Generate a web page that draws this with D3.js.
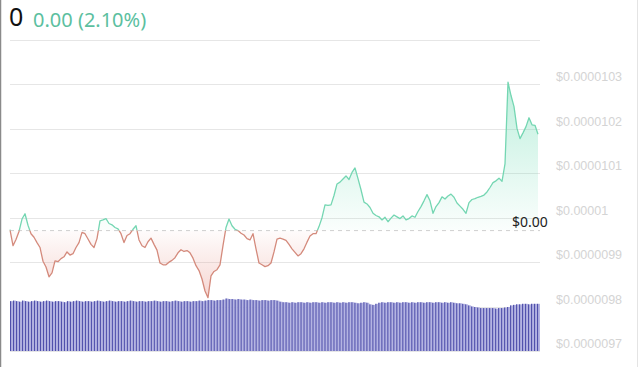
<!DOCTYPE html>
<html><head><meta charset="utf-8">
<script src="https://cdn.jsdelivr.net/npm/d3@7"></script>
<style>html,body{margin:0;padding:0;background:#fff;overflow:hidden}</style>
</head><body>
<svg id="c" width="640" height="367"></svg>
<script>
// Prices in units of 1e-7 USD
const prices = [
 99.73, 99.37, 99.51, 99.69, 99.97, 100.09, 99.83, 99.64, 99.56, 99.44,
 99.33, 99.02, 98.89, 98.67, 98.76, 99.03, 99.01, 99.08, 99.12, 99.23,
 99.16, 99.19, 99.33, 99.44, 99.67, 99.64, 99.52, 99.40, 99.33, 99.53,
 99.93, 99.95, 99.98, 99.87, 99.84, 99.78, 99.75, 99.64, 99.44, 99.60,
 99.64, 99.74, 99.82, 99.50, 99.37, 99.33, 99.46, 99.54, 99.40, 99.27,
 98.98, 98.94, 98.94, 99.00, 99.04, 99.10, 99.21, 99.28, 99.24, 99.26,
 99.21, 99.09, 98.92, 98.81, 98.62, 98.35, 98.20, 98.69, 98.79, 98.83,
 98.94, 99.37, 99.78, 99.97, 99.82, 99.74, 99.71, 99.65, 99.61, 99.53,
 99.50, 99.64, 99.30, 98.98, 98.94, 98.90, 98.92, 98.98, 99.23, 99.52,
 99.54, 99.52, 99.49, 99.40, 99.30, 99.22, 99.14, 99.19, 99.30, 99.45,
 99.59, 99.64, 99.64, 99.80, 100.00, 100.29, 100.28, 100.29, 100.50, 100.76,
 100.80, 100.87, 100.94, 100.86, 101.02, 101.12, 100.88, 100.63, 100.35, 100.31,
 100.23, 100.10, 100.05, 100.02, 99.95, 100.01, 99.91, 99.99, 100.06, 100.02,
 99.98, 100.04, 99.95, 99.98, 100.04, 100.01, 100.14, 100.25, 100.38, 100.52,
 100.38, 100.10, 100.25, 100.34, 100.47, 100.42, 100.49, 100.53, 100.46, 100.33,
 100.26, 100.19, 100.10, 100.34, 100.41, 100.43, 100.46, 100.48, 100.51, 100.58,
 100.68, 100.79, 100.83, 100.89, 100.82, 101.21, 103.05, 102.75, 102.50, 102.01,
 101.78, 101.91, 102.05, 102.25, 102.09, 102.08, 101.88
];
const volumes = [
 94, 95, 94, 93, 95, 94, 93, 94, 95, 94,
 93, 94, 95, 94, 93, 94, 94, 93, 92, 94,
 93, 94, 95, 94, 93, 94, 94, 93, 94, 95,
 94, 93, 94, 95, 94, 93, 94, 94, 93, 94,
 95, 94, 93, 94, 94, 93, 94, 94, 95, 94,
 93, 94, 94, 93, 94, 95, 94, 93, 94, 94,
 93, 94, 94, 95, 94, 95, 96, 96, 95, 96,
 96, 97, 99, 98, 98, 97, 98, 97, 97, 96,
 97, 96, 96, 95, 96, 96, 95, 96, 96, 95,
 93, 92, 92, 91, 92, 91, 92, 92, 91, 92,
 91, 92, 92, 91, 92, 91, 92, 92, 91, 92,
 91, 92, 91, 92, 92, 91, 90, 91, 92, 91,
 88, 87, 89, 91, 92, 91, 92, 92, 91, 92,
 91, 92, 92, 91, 92, 91, 92, 92, 91, 92,
 92, 91, 92, 92, 91, 92, 91, 92, 91, 90,
 90, 89, 88, 86, 84, 83, 82, 81, 81, 81,
 81, 81, 80, 81, 81, 82, 83, 86, 87, 88,
 88, 89, 89, 88, 89, 89, 89
];
const gridTicks = [97, 98, 99, 100, 101, 102, 103, 104];
const labelTicks = [97, 98, 99, 100, 101, 102, 103];
const basePrice = 99.71;
const headerPrice = "0";
const headerChange = "0.00 (2.10%)";
const baseLabel = "$0.00";

const svg = d3.select("#c");
const W = 640, H = 367;
const x = d3.scaleLinear().domain([0, prices.length - 1]).range([10, 538]);
const xv = d3.scaleLinear().domain([0, volumes.length - 1]).range([11.5, 538.5]);
const y = d3.scaleLinear().domain([97, 104]).range([351, 40]);
const yv = d3.scaleLinear().domain([0, 100]).range([351, 298]);
const fmt = v => "$" + d3.format(".7~f")(v * 1e-7);
const yBase = y(basePrice);

const defs = svg.append("defs");
const gG = defs.append("linearGradient").attr("id", "gG").attr("gradientUnits", "userSpaceOnUse")
  .attr("x1", 0).attr("x2", 0).attr("y1", y(d3.max(prices))).attr("y2", yBase);
gG.append("stop").attr("offset", 0).attr("stop-color", "#6fdcb4").attr("stop-opacity", 0.45);
gG.append("stop").attr("offset", 1).attr("stop-color", "#6fdcb4").attr("stop-opacity", 0.03);
const gR = defs.append("linearGradient").attr("id", "gR").attr("gradientUnits", "userSpaceOnUse")
  .attr("x1", 0).attr("x2", 0).attr("y1", yBase).attr("y2", y(d3.min(prices)));
gR.append("stop").attr("offset", 0).attr("stop-color", "#e8948a").attr("stop-opacity", 0.03);
gR.append("stop").attr("offset", 1).attr("stop-color", "#e8948a").attr("stop-opacity", 0.38);
defs.append("clipPath").attr("id", "cA").append("rect").attr("x", 0).attr("y", 0).attr("width", W).attr("height", yBase);
defs.append("clipPath").attr("id", "cB").append("rect").attr("x", 0).attr("y", yBase).attr("width", W).attr("height", H - yBase);

// borders
svg.append("line").attr("x1", 0.5).attr("x2", 0.5).attr("y1", 0).attr("y2", H).attr("stroke", "#8a8a8a").attr("stroke-width", 1.5);
svg.append("line").attr("x1", 637.5).attr("x2", 637.5).attr("y1", 0).attr("y2", H).attr("stroke", "#e4e4e4").attr("stroke-width", 1);

// grid
svg.append("g").selectAll("line").data(gridTicks).join("line")
  .attr("x1", 10).attr("x2", 540).attr("y1", d => Math.round(y(d)) + 0.5).attr("y2", d => Math.round(y(d)) + 0.5)
  .attr("stroke", "#e6e6e6").attr("stroke-width", 1);

// y labels
svg.append("g").selectAll("text").data(labelTicks).join("text")
  .attr("x", 556).attr("y", d => y(d) - 3)
  .attr("font-family", "Liberation Sans, Arial, sans-serif").attr("font-size", 12.5)
  .attr("fill", "#d4d4d4").text(d => fmt(d));

// volume bars
const vb = svg.append("g").selectAll("g").data(volumes).join("g");
vb.append("rect").attr("x", (d, i) => xv(i) - 1.5).attr("width", 3)
  .attr("y", d => yv(d)).attr("height", d => yv(0) - yv(d)).attr("fill", "#b4b4e2");
vb.append("rect").attr("x", (d, i) => xv(i) - 1.5).attr("width", 1.1)
  .attr("y", d => yv(d)).attr("height", d => yv(0) - yv(d)).attr("fill", "#5050ac");

// areas
const area = d3.area().x((d, i) => x(i)).y0(yBase).y1(d => y(d));
svg.append("path").datum(prices).attr("d", area).attr("fill", "url(#gG)").attr("clip-path", "url(#cA)");
svg.append("path").datum(prices).attr("d", area).attr("fill", "url(#gR)").attr("clip-path", "url(#cB)");

// baseline
svg.append("line").attr("x1", 10).attr("x2", 540).attr("y1", yBase).attr("y2", yBase)
  .attr("stroke", "#cfcfcf").attr("stroke-dasharray", "4,4").attr("stroke-width", 1);

// price line
const line = d3.line().x((d, i) => x(i)).y(d => y(d));
svg.append("path").datum(prices).attr("d", line).attr("fill", "none").attr("stroke", "#74d6b2")
  .attr("stroke-width", 1.3).attr("stroke-linejoin", "round").attr("clip-path", "url(#cA)");
svg.append("path").datum(prices).attr("d", line).attr("fill", "none").attr("stroke", "#d48a7c")
  .attr("stroke-width", 1.3).attr("stroke-linejoin", "round").attr("clip-path", "url(#cB)");

// base label
svg.append("text").attr("x", 512).attr("y", yBase - 3.5)
  .attr("font-family", "Noto Sans, sans-serif").attr("font-size", 14).attr("fill", "#222").text(baseLabel);

// header
svg.append("text").attr("x", 9).attr("y", 26)
  .attr("font-family", "Noto Sans, sans-serif").attr("font-size", 25).attr("fill", "#111").text(headerPrice);
svg.append("text").attr("x", 33).attr("y", 26.5)
  .attr("font-family", "Noto Sans, sans-serif").attr("font-size", 20).attr("fill", "#5cbf9f").text(headerChange);
</script>
</body></html>
